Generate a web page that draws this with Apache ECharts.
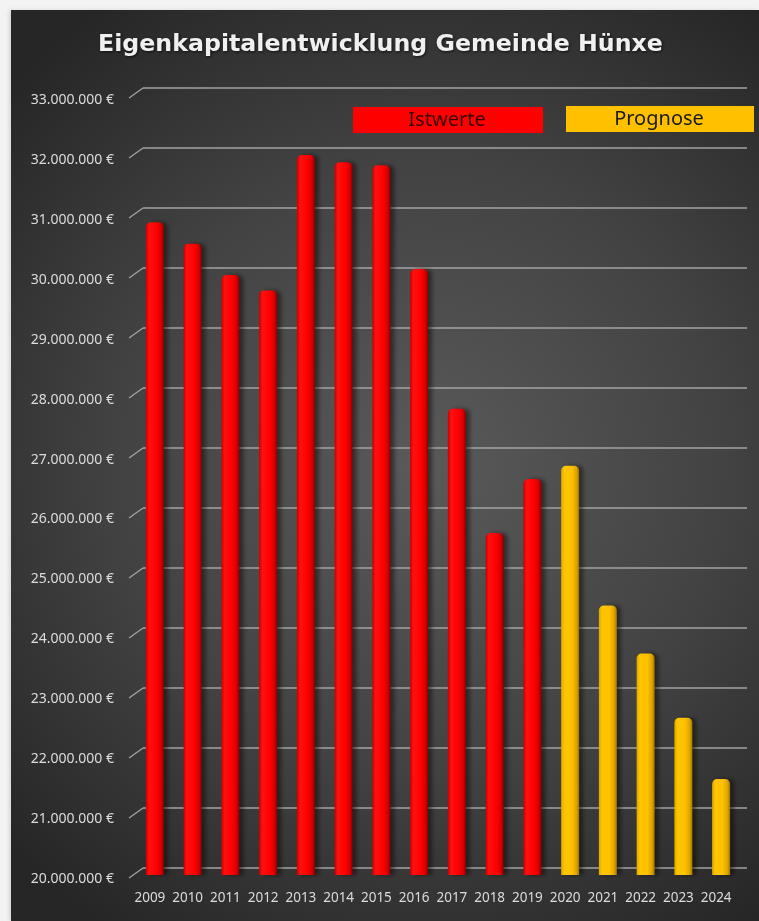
<!DOCTYPE html>
<html>
<head>
<meta charset="utf-8">
<script src="https://cdn.jsdelivr.net/npm/echarts@6/dist/echarts.min.js"></script>
<style>
html,body{margin:0;padding:0;background:#f3f3f3;width:759px;height:921px;overflow:hidden;}
#c{position:absolute;left:11px;top:10px;width:748px;height:911px;box-shadow:-2px 0 4px rgba(0,0,0,0.12);}
</style>
</head>
<body>
<div id="c"></div>
<script>
const titleText = 'Eigenkapitalentwicklung Gemeinde Hünxe';
const years = ['2009','2010','2011','2012','2013','2014','2015','2016','2017','2018','2019','2020','2021','2022','2023','2024'];
const istwerte = [30880000, 30520000, 30000000, 29740000, 32000000, 31880000, 31830000, 30100000, 27770000, 25700000, 26600000, null, null, null, null, null];
const prognose = [null, null, null, null, null, null, null, null, null, null, null, 26820000, 24490000, 23690000, 22620000, 21600000];
const yTicks = [20000000, 21000000, 22000000, 23000000, 24000000, 25000000, 26000000, 27000000, 28000000, 29000000, 30000000, 31000000, 32000000, 33000000];
const legendNames = ['Istwerte', 'Prognose'];

const yMin = yTicks[0], yMax = yTicks[yTicks.length - 1], yStep = yTicks[1] - yTicks[0];
const fmt = v => Math.round(v).toString().replace(/\B(?=(\d{3})+(?!\d))/g, '.') + ' €';

const chart = echarts.init(document.getElementById('c'), null, {renderer: 'canvas'});

const redGrad = new echarts.graphic.LinearGradient(0, 0, 1, 0, [
  {offset: 0, color: '#c80000'},
  {offset: 0.18, color: '#ff1010'},
  {offset: 0.6, color: '#ff0000'},
  {offset: 0.85, color: '#d40000'},
  {offset: 1, color: '#8a0000'}
]);
const yelGrad = new echarts.graphic.LinearGradient(0, 0, 1, 0, [
  {offset: 0, color: '#dca600'},
  {offset: 0.18, color: '#ffc600'},
  {offset: 0.6, color: '#ffc000'},
  {offset: 0.85, color: '#dda400'},
  {offset: 1, color: '#a07400'}
]);

const option = {
  backgroundColor: new echarts.graphic.RadialGradient(0.55, 0.5, 0.75, [
    {offset: 0, color: '#5a5a5a'},
    {offset: 0.55, color: '#424242'},
    {offset: 1, color: '#262626'}
  ]),
  animation: false,
  title: {
    text: titleText,
    left: 82,
    top: 18,
    textStyle: {
      fontFamily: 'DejaVu Sans',
      fontWeight: 'bold',
      fontSize: 23.7,
      color: '#f0f0f0',
      textShadowColor: 'rgba(0,0,0,0.7)',
      textShadowBlur: 3,
      textShadowOffsetX: 1,
      textShadowOffsetY: 1
    }
  },
  graphic: [
    {type: 'rect', left: 342, top: 97, shape: {width: 190, height: 26}, style: {fill: '#ff0000'}},
    {type: 'text', x: 436, y: 110, style: {text: legendNames[0], fill: '#3a0000', font: '20px "Noto Sans"', align: 'center', verticalAlign: 'middle'}},
    {type: 'rect', left: 555, top: 96, shape: {width: 188, height: 26}, style: {fill: '#ffc000'}},
    {type: 'text', x: 648, y: 109, style: {text: legendNames[1], fill: '#1a1a1a', font: '20px "Noto Sans"', align: 'center', verticalAlign: 'middle'}}
  ],
  grid: [
    {left: 132, top: 78, width: 604, height: 780},
    {left: 125, top: 85, width: 604, height: 780},
    {left: 132, top: 90, width: 1, height: 779}
  ],
  xAxis: [
    {type: 'value', gridIndex: 0, min: 0, max: 1, show: false},
    {
      type: 'category', gridIndex: 1, data: years,
      axisLine: {show: false}, axisTick: {show: false},
      axisLabel: {
        color: '#dcdcdc', fontFamily: 'Noto Sans', fontSize: 13.5, margin: 16,
        interval: 0, padding: [0, 10, 0, 0]
      }
    },
    {type: 'value', gridIndex: 2, min: 0, max: 1, show: false}
  ],
  yAxis: [
    {
      type: 'value', gridIndex: 0, min: yMin, max: yMax, interval: yStep,
      axisLine: {show: false}, axisTick: {show: false}, axisLabel: {show: false},
      splitLine: {lineStyle: {color: '#a3a3a3', width: 1.5}}
    },
    {
      type: 'value', gridIndex: 1, min: yMin, max: yMax, interval: yStep,
      axisLine: {show: false}, axisTick: {show: false}, axisLabel: {show: false},
      splitLine: {show: false}
    },
    {
      type: 'value', gridIndex: 2, min: yMin, max: yMax, interval: yStep,
      axisLine: {show: false}, axisTick: {show: false}, splitLine: {show: false},
      axisLabel: {color: '#dcdcdc', fontFamily: 'Noto Sans', fontSize: 14, margin: 29, formatter: fmt}
    }
  ],
  series: [
    {
      type: 'custom', xAxisIndex: 0, yAxisIndex: 0, silent: true,
      data: yTicks.map(v => [0, v]),
      renderItem: function (params, api) {
        const p = api.coord([0, api.value(1)]);
        return {
          type: 'line',
          shape: {x1: p[0] - 14, y1: p[1] + 10, x2: p[0], y2: p[1]},
          style: {stroke: '#a3a3a3', lineWidth: 1.3}
        };
      }
    },
    {
      name: legendNames[0], type: 'bar', xAxisIndex: 1, yAxisIndex: 1,
      data: istwerte, barWidth: 18, barGap: '-100%',
      itemStyle: {
        color: redGrad, borderRadius: [5, 5, 0, 0],
        shadowColor: 'rgba(0,0,0,0.45)', shadowBlur: 4, shadowOffsetX: 4, shadowOffsetY: 0
      }
    },
    {
      name: legendNames[1], type: 'bar', xAxisIndex: 1, yAxisIndex: 1,
      data: prognose, barWidth: 18, barGap: '-100%',
      itemStyle: {
        color: yelGrad, borderRadius: [5, 5, 0, 0],
        shadowColor: 'rgba(0,0,0,0.45)', shadowBlur: 4, shadowOffsetX: 4, shadowOffsetY: 0
      }
    }
  ]
};
chart.setOption(option);
</script>
</body>
</html>
